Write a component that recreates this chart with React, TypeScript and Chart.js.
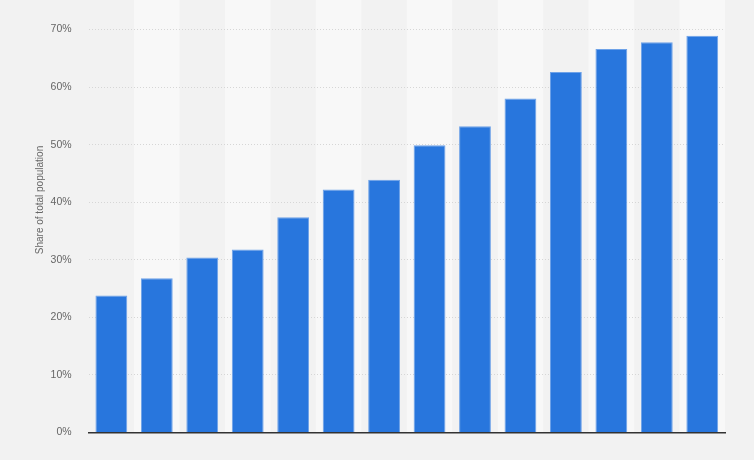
import React, { useEffect, useRef } from 'react';
import { Chart, registerables, Plugin } from 'chart.js';

Chart.register(...registerables);

// categories are not printed on the reference, only the bars are shown
const categories = ['1', '2', '3', '4', '5', '6', '7', '8', '9', '10', '11', '12', '13', '14'];
const shareValues = [23.8, 26.8, 30.4, 31.8, 37.4, 42.2, 43.9, 49.9, 53.2, 58.0, 62.6, 66.6, 67.8, 68.9];
const yTicks = [0, 10, 20, 30, 40, 50, 60, 70];
const yTitle = 'Share of total population';

const FONT = 'Liberation Sans, Arial, sans-serif';

// alternating light column stripes behind the bars
const stripes: Plugin<'bar'> = {
  id: 'stripes',
  beforeDraw(chart) {
    const { ctx, chartArea, scales } = chart;
    const x = scales.x;
    const step = (chartArea.right - chartArea.left) / categories.length;
    ctx.save();
    ctx.fillStyle = '#f8f8f8';
    categories.forEach((_, i) => {
      if (i % 2 === 1) {
        const cx = x.getPixelForValue(i);
        ctx.fillRect(cx - step / 2, 0, step, chartArea.bottom);
      }
    });
    ctx.restore();
  }
};

// the axis title sits a bit above the middle of the plot, so draw it by hand
const axisTitle: Plugin<'bar'> = {
  id: 'axisTitle',
  afterDraw(chart) {
    const { ctx, chartArea } = chart;
    const cy = (chartArea.top + chartArea.bottom) / 2 - 31;
    ctx.save();
    ctx.translate(40, cy);
    ctx.rotate(-Math.PI / 2);
    ctx.fillStyle = '#666666';
    ctx.font = `10px ${FONT}`;
    ctx.textAlign = 'center';
    ctx.textBaseline = 'middle';
    ctx.fillText(yTitle, 0, 0);
    ctx.restore();
  }
};

const App: React.FC = () => {
  const chartRef = useRef<HTMLCanvasElement>(null);
  const chartInstance = useRef<Chart | null>(null);

  useEffect(() => {
    if (!chartRef.current) return;
    if (chartInstance.current) chartInstance.current.destroy();

    const ctx = chartRef.current.getContext('2d');
    if (!ctx) return;

    chartInstance.current = new Chart(ctx, {
      type: 'bar',
      data: {
        labels: categories,
        datasets: [
          {
            label: yTitle,
            data: shareValues,
            backgroundColor: '#2876dd',
            borderColor: '#6ea2e8',
            borderWidth: 1,
            barPercentage: 0.7,
            categoryPercentage: 1
          }
        ]
      },
      options: {
        animation: false,
        responsive: true,
        maintainAspectRatio: false,
        layout: { padding: { top: 29.5, right: 29, bottom: 19.5, left: 0 } },
        scales: {
          x: {
            grid: { display: false },
            ticks: { display: false },
            border: { display: true, color: '#333333', width: 1.5 }
          },
          y: {
            min: 0,
            max: 70,
            afterBuildTicks(scale) {
              scale.ticks = yTicks.map((v) => ({ value: v }));
            },
            grid: {
              color: '#d6d6d6',
              drawTicks: false,
              lineWidth: 1
            },
            border: { display: false, dash: [1, 2] },
            ticks: {
              padding: 17,
              color: '#666666',
              font: { family: FONT, size: 10.5 },
              callback: (v) => `${v}%`
            },
            // keeps the room for the title; the text itself is drawn by axisTitle
            title: {
              display: true,
              text: yTitle,
              color: 'rgba(0,0,0,0)',
              padding: { top: 33.7, bottom: -12.7 },
              font: { family: FONT, size: 10.5 }
            }
          }
        },
        plugins: {
          legend: { display: false },
          tooltip: { enabled: false }
        }
      },
      plugins: [stripes, axisTitle]
    });

    return () => {
      if (chartInstance.current) {
        chartInstance.current.destroy();
        chartInstance.current = null;
      }
    };
  }, []);

  return (
    <div style={{ position: 'fixed', top: 0, left: 0, width: 754, height: 460, background: '#f2f2f2' }}>
      <canvas ref={chartRef}></canvas>
    </div>
  );
};

export default App;
